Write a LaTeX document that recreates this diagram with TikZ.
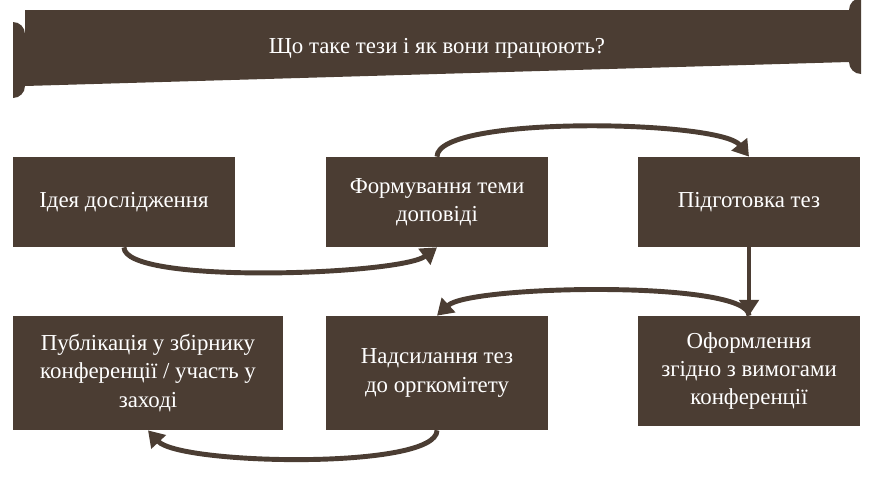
\documentclass[tikz,border=0pt]{standalone}
\usepackage{fontspec}
\setmainfont{Liberation Serif}
\usetikzlibrary{arrows.meta,positioning}
\definecolor{bark}{HTML}{4B3D33}
\tikzset{stage/.style={fill=bark,text=white,align=center,font=\fontsize{13}{16}\selectfont,inner sep=0pt},
  flow/.style={draw=bark,line width=2.8pt,-{Triangle[length=9pt,width=11pt]}}}

\begin{document}
\begin{tikzpicture}[x=0.02cm,y=-0.02cm]
  \useasboundingbox (0,0) rectangle (876,477);
  % title banner with notched corners
  \fill[bark] (25,10) -- (849,10) arc[start angle=180,end angle=270,radius=12] -- (861,74)
    arc[start angle=90,end angle=180,radius=12] -- (25,86) arc[start angle=0,end angle=90,radius=12]
    -- (13,22) arc[start angle=270,end angle=360,radius=12] -- cycle;
  \node[text=white,font=\fontsize{13}{16}\selectfont] (title) at (437,48) {Що таке тези і як вони працюють?};

  \node[stage,minimum width=4.44cm,minimum height=1.8cm] (idea) at (124,202) {Ідея дослідження};
  \node[stage,minimum width=4.44cm,minimum height=1.8cm] (topic) at (437,202) {Формування теми\\доповіді};
  \node[stage,minimum width=4.44cm,minimum height=1.8cm] (prep) at (749,202) {Підготовка тез};
  \node[stage,minimum width=5.42cm,minimum height=2.28cm] (publ) at (148,373) {Публікація у збірнику\\конференції / участь у\\заході};
  \node[stage,minimum width=4.44cm,minimum height=2.28cm] (send) at (437,373) {Надсилання тез\\до оргкомітету};
  \node[stage,minimum width=4.44cm,minimum height=2.2cm] (form) at (749,371) {Оформлення\\згідно з вимогами\\конференції};

  \draw[flow] (idea.south) .. controls (124,285) and (400,275) .. (topic.south);
  \draw[flow] (topic.north) .. controls (437,115) and (720,120) .. (prep.north);
  \draw[flow] (prep.south) -- (form.north);
  \draw[flow] (form.north) .. controls (749,280) and (470,285) .. (send.north);
  \draw[flow] (send.south) .. controls (437,470) and (180,465) .. (publ.south);
\end{tikzpicture}
\end{document}
